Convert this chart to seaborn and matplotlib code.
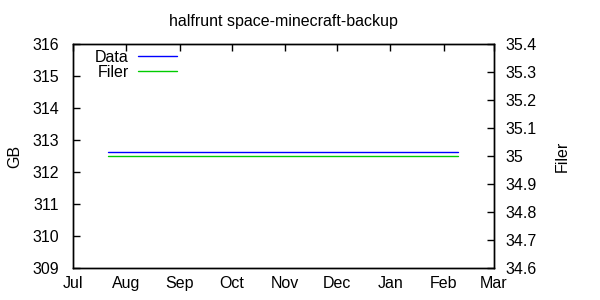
import matplotlib
matplotlib.use("Agg")
import matplotlib.pyplot as plt
import matplotlib.dates as mdates
from matplotlib.lines import Line2D
import seaborn as sns
import pandas as pd

title = "halfrunt space-minecraft-backup"
dates = pd.to_datetime(["2011-07-21", "2012-02-09"])
data_gb = [312.62, 312.62]
filer = [35.0, 35.0]
left_ticks = [309, 310, 311, 312, 313, 314, 315, 316]
right_ticks = [34.6, 34.7, 34.8, 34.9, 35.0, 35.1, 35.2, 35.3, 35.4]
right_labels = ["34.6", "34.7", "34.8", "34.9", "35", "35.1", "35.2", "35.3", "35.4"]
month_ticks = pd.date_range("2011-07-01", "2012-03-01", freq="MS")

FS = 11.5
sns.set_style("white")
plt.rcParams["font.family"] = ["Liberation Sans", "DejaVu Sans"]
plt.rcParams["font.size"] = FS
for k in ("text.color", "axes.labelcolor", "xtick.color", "ytick.color",
          "xtick.labelcolor", "ytick.labelcolor", "axes.edgecolor"):
    plt.rcParams[k] = "black"

df = pd.DataFrame({"date": dates, "Data": data_gb, "Filer": filer})

fig = plt.figure(figsize=(6, 3), dpi=100)
ax = fig.add_axes([73/600, 1-268/300, (494-73)/600, (268-44)/300])
ax2 = ax.twinx()

sns.lineplot(data=df, x="date", y="Data", ax=ax, color="#0000ff", linewidth=1, legend=False)
sns.lineplot(data=df, x="date", y="Filer", ax=ax2, color="#00cc00", linewidth=1, legend=False)

ax.set_xlim(month_ticks[0], month_ticks[-1])
ax.set_ylim(309, 316)
ax.set_yticks(left_ticks)
ax.set_yticklabels([str(t) for t in left_ticks])
ax2.set_ylim(34.6, 35.4)
ax2.set_yticks(right_ticks)
ax2.set_yticklabels(right_labels)
ax.set_xticks(month_ticks)
ax.xaxis.set_major_formatter(mdates.DateFormatter("%b"))

ax.set_xlabel("")
ax.set_ylabel("GB", fontsize=FS, labelpad=7, color="black")
ax2.set_ylabel("Filer", fontsize=FS, labelpad=13, color="black")
ax.set_title(title, fontsize=FS, pad=13, color="black")

for a in (ax, ax2):
    for s in a.spines.values():
        s.set_color("black")
        s.set_linewidth(1)
ax.tick_params(axis="both", direction="in", length=5, width=1, labelsize=FS,
               color="black", labelcolor="black")
ax.tick_params(axis="x", top=True, pad=6)
ax.tick_params(axis="y", left=True, right=False, pad=10)
ax2.tick_params(axis="y", direction="in", length=5, width=1, labelsize=FS, right=True,
                pad=8, color="black", labelcolor="black")

handles = [Line2D([], [], color="#0000ff", lw=1), Line2D([], [], color="#00cc00", lw=1)]
leg = ax.legend(handles, ["Data", "Filer"], loc="upper left",
                bbox_to_anchor=((95-73)/421, 1 - 6/224),
                frameon=False, markerfirst=False, handlelength=2.45, handletextpad=0.6,
                labelspacing=0.0, borderaxespad=0.0, borderpad=0.0, fontsize=FS)
for t in leg.get_texts():
    t.set_ha("right")
    t.set_color("black")

fig.savefig("out.png", dpi=100)
